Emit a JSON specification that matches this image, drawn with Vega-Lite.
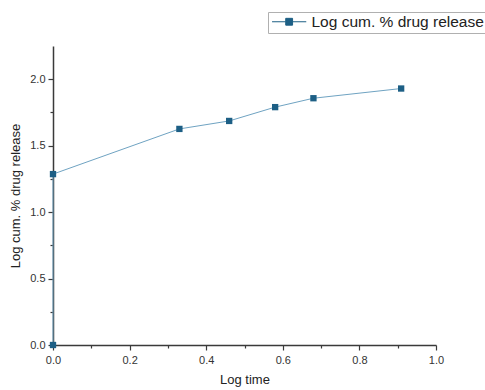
{
  "$schema": "https://vega.github.io/schema/vega-lite/v6.json",
  "width": 383,
  "height": 299,
  "autosize": "none",
  "padding": {"left": 53, "top": 46, "right": 49, "bottom": 45},
  "background": "white",
  "config": {
    "view": {"stroke": null},
    "font": "Liberation Sans",
    "axis": {"grid": false, "domainColor": "#3a3a3a", "tickColor": "#3a3a3a", "labelColor": "#333", "titleColor": "#222", "labelFont": "Liberation Sans", "titleFont": "Liberation Sans", "titleFontWeight": "normal", "labelFontSize": 11, "titleFontSize": 13, "domainWidth": 1.5, "tickWidth": 1.2, "labelFlush": false}
  },
  "data": {
    "values": [
      {"t": 0, "r": 0, "s": "Log cum. % drug release"},
      {"t": 0, "r": 1.286, "s": "Log cum. % drug release"},
      {"t": 0.33, "r": 1.626, "s": "Log cum. % drug release"},
      {"t": 0.46, "r": 1.686, "s": "Log cum. % drug release"},
      {"t": 0.58, "r": 1.79, "s": "Log cum. % drug release"},
      {"t": 0.68, "r": 1.857, "s": "Log cum. % drug release"},
      {"t": 0.909, "r": 1.93, "s": "Log cum. % drug release"}
    ]
  },
  "layer": [
    {
      "mark": {"type": "line", "strokeWidth": 1, "color": "#6fa3c2"},
      "encoding": {
        "x": {"field": "t", "type": "quantitative", "scale": {"domain": [0, 1], "nice": false},
          "axis": {"title": "Log time", "values": [0, 0.2, 0.4, 0.6, 0.8, 1.0], "format": ".1f", "tickSize": 5, "labelPadding": 4, "titlePadding": 8, "orient": "bottom"}},
        "y": {"field": "r", "type": "quantitative", "scale": {"domain": [0, 2.25], "nice": false},
          "axis": {"title": "Log cum. % drug release", "values": [0, 0.5, 1.0, 1.5, 2.0], "format": ".1f", "tickSize": 5, "labelPadding": 3, "titlePadding": 7, "orient": "left"}}
      }
    },
    {
      "mark": {"type": "point", "shape": "square", "filled": true, "size": 40, "opacity": 1},
      "encoding": {
        "x": {"field": "t", "type": "quantitative",
          "axis": {"title": null, "values": [0.1, 0.3, 0.5, 0.7, 0.9], "labels": false, "domain": false, "tickSize": 3, "orient": "bottom"}},
        "y": {"field": "r", "type": "quantitative",
          "axis": {"title": null, "values": [0.25, 0.75, 1.25, 1.75], "labels": false, "domain": false, "tickSize": 3, "orient": "left"}},
        "color": {"field": "s", "type": "nominal", "scale": {"range": ["#1d5f85"]},
          "legend": {"title": null, "orient": "none", "legendX": 215, "legendY": -34,
            "strokeColor": "#b0b0b0", "fillColor": "white", "padding": 2,
            "symbolType": "M-1,0H1.4M2.6,0H5M1.4,-0.6H2.6V0.6H1.4Z",
            "symbolSize": 130, "symbolStrokeWidth": 1, "symbolStrokeColor": "#1d5f85", "symbolFillColor": "#1d5f85",
            "labelFontSize": 15.5, "labelLimit": 400, "labelColor": "#222", "labelFont": "Liberation Sans", "labelOffset": 26}}
      }
    }
  ],
  "resolve": {"axis": {"x": "independent", "y": "independent"}}
}
